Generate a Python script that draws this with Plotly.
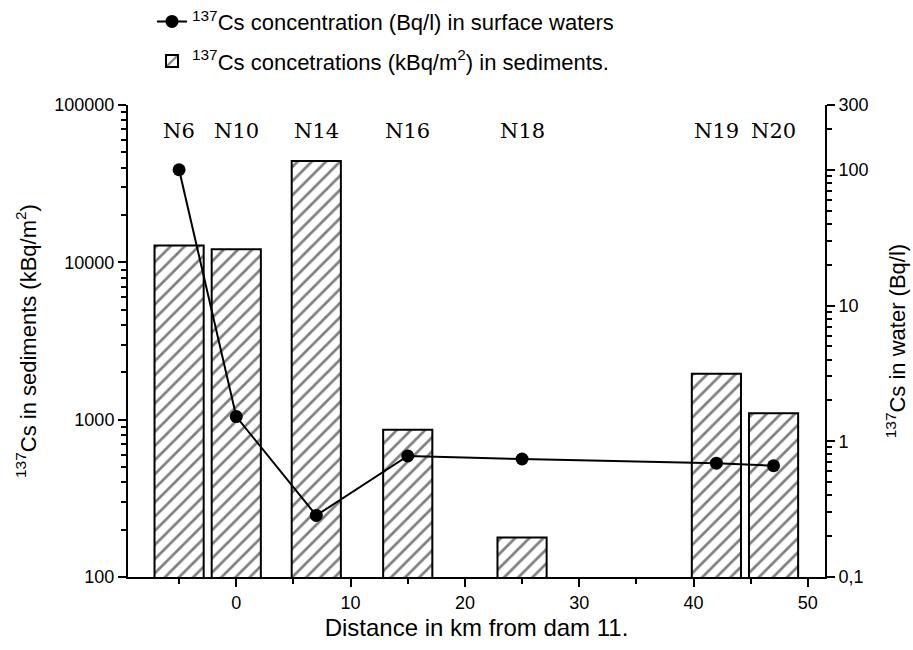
import plotly.graph_objects as go

# Sampling stations along the river, distance (km) from dam 11
stations = ["N6", "N10", "N14", "N16", "N18", "N19", "N20"]
distance_km = [-5, 0, 7, 15, 25, 42, 47]

# 137Cs in bottom sediments, kBq/m^2
sediment_kbq_m2 = [12800, 12100, 44000, 864, 178, 1960, 1100]

# 137Cs in surface water, Bq/l
water_bq_l = [100, 1.52, 0.284, 0.78, 0.74, 0.69, 0.66]

bar_width_km = 4.3

left_tickvals = [100, 1000, 10000, 100000]
left_ticktext = ["100", "1000", "10000", "100000"]
right_tickvals = [0.1, 1, 10, 100, 300]
right_ticktext = ["0,1", "1", "10", "100", "300"]
x_tickvals = [0, 10, 20, 30, 40, 50]

left_minor = [m * 10 ** e for e in (2, 3, 4) for m in range(2, 10)]
right_minor = [m * 10 ** e for e in (-1, 0, 1) for m in range(2, 10)] + [200]

SANS = "Liberation Sans, Arial, sans-serif"
SERIF = "DejaVu Serif, serif"

fig = go.Figure()

fig.add_trace(go.Bar(
    x=distance_km,
    y=sediment_kbq_m2,
    width=[bar_width_km] * len(distance_km),
    name="<sup>137</sup>Cs concetrations (kBq/m<sup>2</sup>) in sediments.",
    legendgroup="sed",
    legendrank=2,
    marker=dict(
        color="white",
        line=dict(color="black", width=2),
        pattern=dict(shape="/", fgcolor="black", bgcolor="white",
                     size=10, solidity=0.27, fillmode="overlay"),
    ),
    yaxis="y",
))

fig.add_trace(go.Scatter(
    x=distance_km,
    y=water_bq_l,
    mode="lines+markers",
    name="<sup>137</sup>Cs concentration (Bq/l) in surface waters",
    legendgroup="water",
    legendrank=1,
    line=dict(color="black", width=2),
    marker=dict(color="black", size=13, symbol="circle"),
    yaxis="y2",
))

for name, xk in zip(stations, distance_km):
    fig.add_annotation(
        x=xk, y=0.944, xref="x", yref="paper",
        text=name, showarrow=False,
        font=dict(family=SERIF, size=21, color="black"),
        xanchor="center", yanchor="middle",
    )

fig.update_layout(
    width=913, height=650,
    margin=dict(l=128, r=88, t=105, b=73),
    paper_bgcolor="white",
    plot_bgcolor="white",
    font=dict(family=SANS, color="black"),
    barmode="overlay",
    showlegend=True,
    legend=dict(
        xref="paper", yref="container",
        x=0.0344, y=0.999, xanchor="left", yanchor="top",
        font=dict(family=SANS, size=22, color="black"),
        tracegroupgap=8,
        bgcolor="rgba(0,0,0,0)",
    ),
    xaxis=dict(
        range=[-9.47, 51.5],
        tickvals=x_tickvals,
        ticks="outside", ticklen=8, tickwidth=1.5, tickcolor="black",
        showline=True, linecolor="black", linewidth=2,
        showgrid=False, zeroline=False,
        tickfont=dict(family=SANS, size=18),
        minor=dict(ticks="outside", ticklen=5, tickwidth=1.5, tickcolor="black",
                   dtick=5, tick0=0, showgrid=False),
        title=dict(text="Distance in km from dam 11.",
                   font=dict(family=SANS, size=24), standoff=8),
        automargin=False,
    ),
    yaxis=dict(
        type="log",
        range=[2, 5],
        tickvals=left_tickvals, ticktext=left_ticktext,
        ticks="outside", ticklen=8, tickwidth=1.5, tickcolor="black",
        showline=True, linecolor="black", linewidth=2,
        showgrid=False, zeroline=False,
        tickfont=dict(family=SANS, size=18),
        minor=dict(ticks="outside", ticklen=5, tickwidth=1.5, tickcolor="black",
                   tickvals=left_minor, showgrid=False),
        title=dict(text="<sup>137</sup>Cs in sediments (kBq/m<sup>2</sup>)",
                   font=dict(family=SANS, size=22), standoff=12),
        automargin=False,
    ),
    yaxis2=dict(
        type="log",
        range=[-1, 2.4771],
        overlaying="y", side="right",
        tickvals=right_tickvals, ticktext=right_ticktext,
        ticks="outside", ticklen=8, tickwidth=1.5, tickcolor="black",
        showline=True, linecolor="black", linewidth=2,
        showgrid=False, zeroline=False,
        tickfont=dict(family=SANS, size=18),
        minor=dict(ticks="outside", ticklen=5, tickwidth=1.5, tickcolor="black",
                   tickvals=right_minor, showgrid=False),
        title=dict(text="<sup>137</sup>Cs in water (Bq/l)",
                   font=dict(family=SANS, size=22), standoff=22),
        automargin=False,
    ),
)

fig.write_html("out.html")
